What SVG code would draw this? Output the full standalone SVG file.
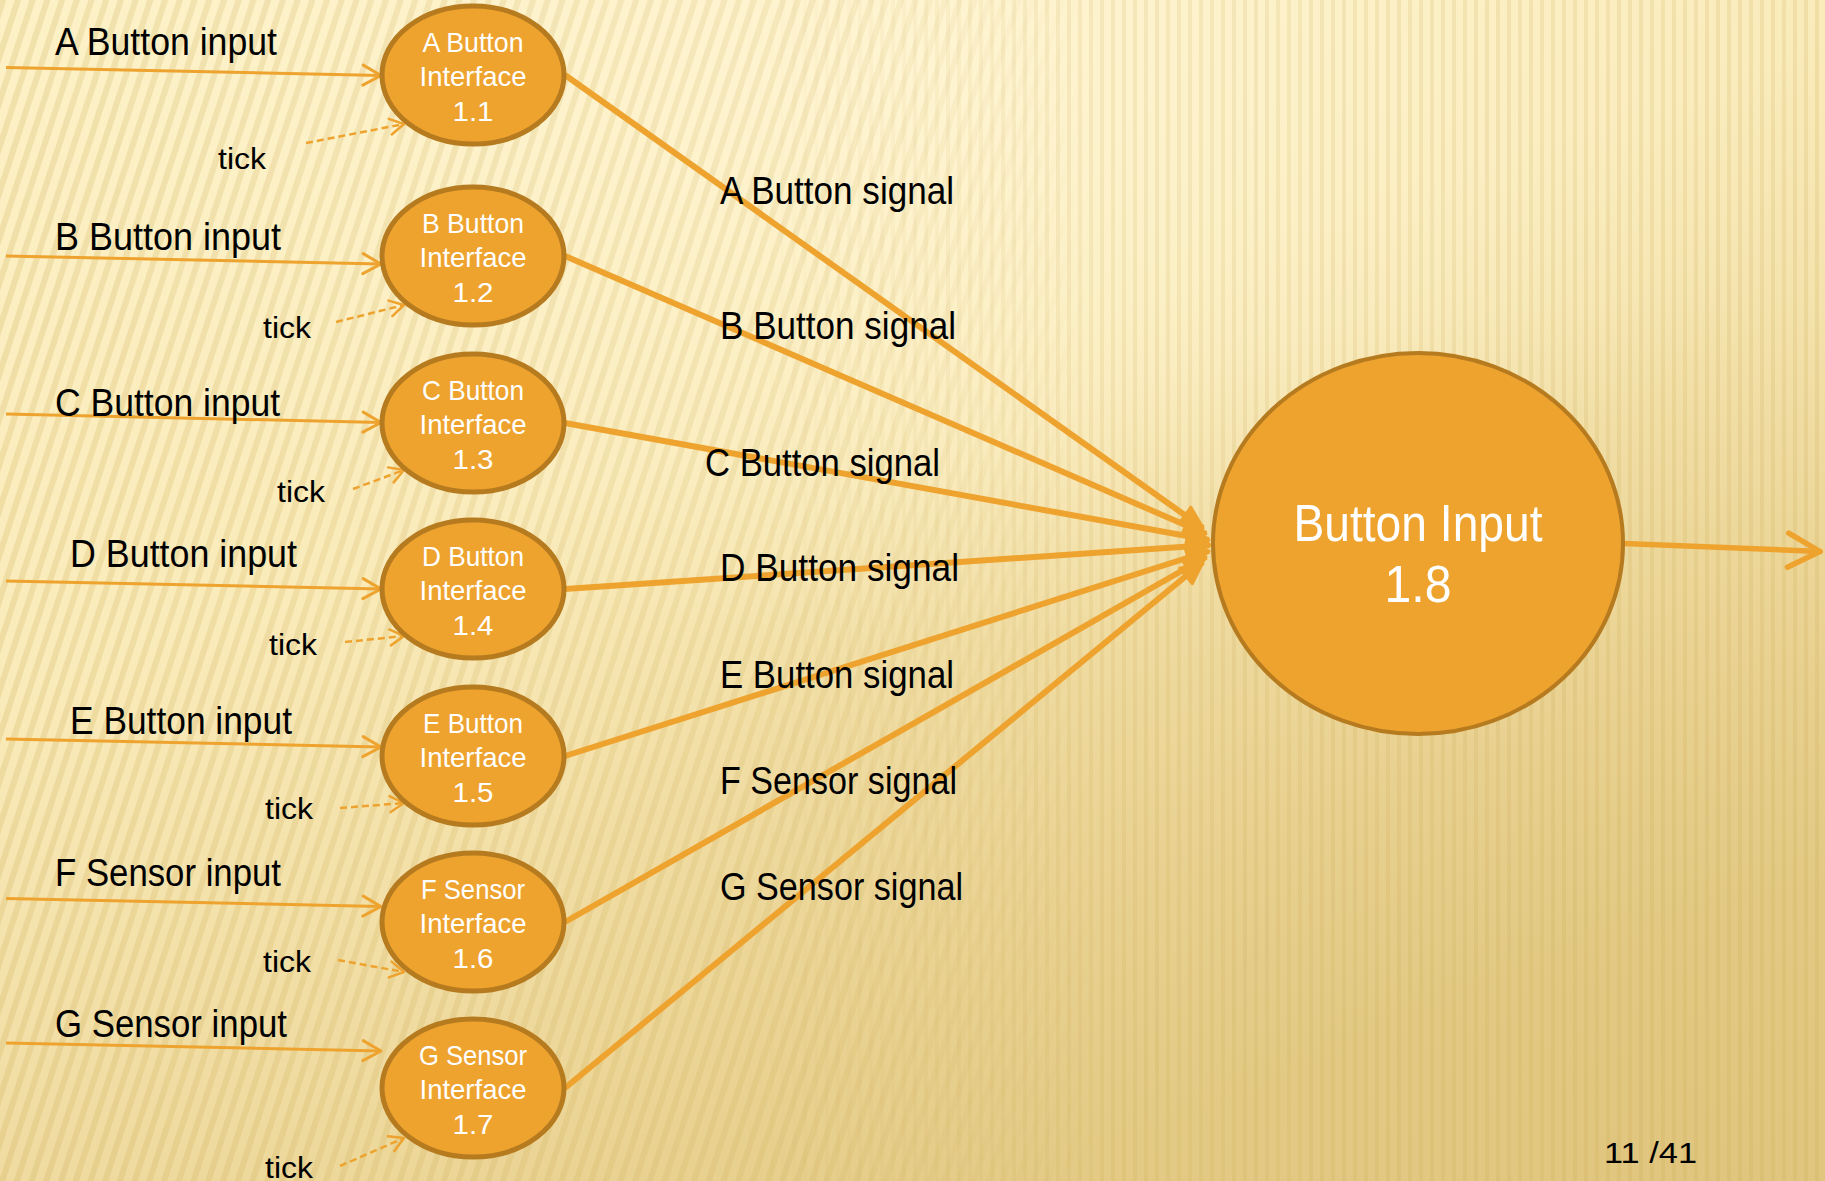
<svg xmlns="http://www.w3.org/2000/svg" width="1825" height="1181" viewBox="0 0 1825 1181">
<defs>
<style>
.lbl{font-family:"Liberation Sans",Arial,sans-serif;font-size:38px;fill:#000}
.tick{font-family:"Liberation Sans",Arial,sans-serif;font-size:30px;fill:#000}
.ntxt{font-family:"Liberation Sans",Arial,sans-serif;font-size:28px;fill:#fff;text-anchor:middle}
.btxt{font-family:"Liberation Sans",Arial,sans-serif;font-size:52px;fill:#fff;text-anchor:middle}
.node{fill:#EEA32F;stroke:#B67A1F;stroke-width:5}
.in{stroke:#EEA32F;stroke-width:3;fill:none;marker-end:url(#chev)}
.tk{stroke:#EEA32F;stroke-width:2.5;fill:none;stroke-dasharray:7 4;marker-end:url(#chevs)}
.sig{stroke:#EEA32F;stroke-width:6;fill:none;marker-end:url(#head)}
.out{stroke:#EEA32F;stroke-width:5.5;fill:none;stroke-linecap:round;marker-end:url(#chevb)}
</style>
<linearGradient id="bg" x1="0" y1="0" x2="0.55" y2="1">
<stop offset="0" stop-color="#FDF1C6"/>
<stop offset="0.45" stop-color="#FAEBBA"/>
<stop offset="1" stop-color="#E8D08E"/>
</linearGradient>
<radialGradient id="shade" cx="0.95" cy="1" r="0.75">
<stop offset="0" stop-color="#D9BC70" stop-opacity="0.55"/>
<stop offset="1" stop-color="#D9BC70" stop-opacity="0"/>
</radialGradient>
<radialGradient id="glow" cx="0.5" cy="0.05" r="0.5">
<stop offset="0" stop-color="#FFF6D6" stop-opacity="0.8"/>
<stop offset="1" stop-color="#FFF6D6" stop-opacity="0"/>
</radialGradient>
<pattern id="diag" width="14" height="14" patternUnits="userSpaceOnUse" patternTransform="rotate(18)">
<rect x="0" y="0" width="6" height="14" fill="#C9A64E" fill-opacity="0.22"/>
</pattern>
<pattern id="vert" width="11" height="11" patternUnits="userSpaceOnUse">
<rect x="0" y="0" width="4" height="11" fill="#C9A64E" fill-opacity="0.18"/>
</pattern>
<linearGradient id="fadeL" x1="0" y1="0" x2="1" y2="0">
<stop offset="0" stop-color="#fff"/>
<stop offset="0.45" stop-color="#fff" stop-opacity="0.7"/>
<stop offset="0.6" stop-color="#fff" stop-opacity="0"/>
</linearGradient>
<linearGradient id="fadeR" x1="0" y1="0" x2="1" y2="0">
<stop offset="0.4" stop-color="#fff" stop-opacity="0"/>
<stop offset="0.6" stop-color="#fff" stop-opacity="0.8"/>
<stop offset="1" stop-color="#fff"/>
</linearGradient>
<mask id="mL"><rect width="1825" height="1181" fill="url(#fadeL)"/></mask>
<mask id="mR"><rect width="1825" height="1181" fill="url(#fadeR)"/></mask>
<marker id="chev" viewBox="-22 -13 26 26" refX="0" refY="0" markerWidth="26" markerHeight="26" markerUnits="userSpaceOnUse" orient="auto">
<path d="M-18,-10 L0,0 L-18,10" fill="none" stroke="#EEA32F" stroke-width="3" stroke-linecap="round" stroke-linejoin="round"/>
</marker>
<marker id="chevs" viewBox="-18 -11 22 22" refX="0" refY="0" markerWidth="22" markerHeight="22" markerUnits="userSpaceOnUse" orient="auto">
<path d="M-14,-8 L0,0 L-14,8" fill="none" stroke="#EEA32F" stroke-width="2.5" stroke-linecap="round" stroke-linejoin="round"/>
</marker>
<marker id="chevb" viewBox="-38 -22 44 44" refX="0" refY="0" markerWidth="44" markerHeight="44" markerUnits="userSpaceOnUse" orient="auto">
<path d="M-32,-17 L0,0 L-32,17" fill="none" stroke="#EEA32F" stroke-width="5.5" stroke-linecap="round" stroke-linejoin="round"/>
</marker>
<marker id="head" viewBox="-28 -16 32 32" refX="0" refY="0" markerWidth="32" markerHeight="32" markerUnits="userSpaceOnUse" orient="auto">
<path d="M-22,-10 L0,0 L-22,10 Z" fill="#EEA32F" stroke="#EEA32F" stroke-width="3" stroke-linejoin="round"/>
</marker>
</defs>

<g id="background">
<rect width="1825" height="1181" fill="url(#bg)"/>
<rect width="1825" height="1181" fill="url(#glow)"/>
<rect width="1825" height="1181" fill="url(#shade)"/>
<rect width="1825" height="1181" fill="url(#diag)" mask="url(#mL)"/>
<rect width="1825" height="1181" fill="url(#vert)" mask="url(#mR)"/>
</g>

<g id="connectors">
<line class="in" x1="6" y1="67.5" x2="381" y2="75.5"/>
<line class="in" x1="6" y1="256" x2="381" y2="264"/>
<line class="in" x1="6" y1="414" x2="381" y2="422.5"/>
<line class="in" x1="6" y1="581" x2="381" y2="589"/>
<line class="in" x1="6" y1="739" x2="381" y2="747"/>
<line class="in" x1="6" y1="898.5" x2="381" y2="906.5"/>
<line class="in" x1="6" y1="1043" x2="381" y2="1051"/>

<line class="tk" x1="306" y1="143" x2="404" y2="124"/>
<line class="tk" x1="336" y1="322" x2="404" y2="305"/>
<line class="tk" x1="353" y1="489" x2="404" y2="470"/>
<line class="tk" x1="345" y1="642" x2="404" y2="636"/>
<line class="tk" x1="340" y1="808" x2="404" y2="803"/>
<line class="tk" x1="338" y1="960" x2="404" y2="972"/>
<line class="tk" x1="340" y1="1166" x2="404" y2="1138"/>

<line class="sig" x1="565" y1="75" x2="1203" y2="528"/>
<line class="sig" x1="565" y1="256" x2="1206" y2="534"/>
<line class="sig" x1="565" y1="423" x2="1209" y2="540"/>
<line class="sig" x1="565" y1="589" x2="1210" y2="545"/>
<line class="sig" x1="565" y1="756" x2="1209" y2="551"/>
<line class="sig" x1="565" y1="922" x2="1206" y2="557"/>
<line class="sig" x1="565" y1="1088" x2="1203" y2="562"/>

<line class="out" x1="1624" y1="543.5" x2="1820" y2="551.5"/>
</g>

<g id="connector-labels">
<text class="lbl" x="55" y="55" textLength="222" lengthAdjust="spacingAndGlyphs">A Button input</text>
<text class="lbl" x="55" y="250" textLength="226" lengthAdjust="spacingAndGlyphs">B Button input</text>
<text class="lbl" x="55" y="416" textLength="225" lengthAdjust="spacingAndGlyphs">C Button input</text>
<text class="lbl" x="70" y="567" textLength="227" lengthAdjust="spacingAndGlyphs">D Button input</text>
<text class="lbl" x="70" y="734" textLength="222" lengthAdjust="spacingAndGlyphs">E Button input</text>
<text class="lbl" x="55" y="886" textLength="226" lengthAdjust="spacingAndGlyphs">F Sensor input</text>
<text class="lbl" x="55" y="1037" textLength="232" lengthAdjust="spacingAndGlyphs">G Sensor input</text>

<text class="tick" x="218" y="169" textLength="48" lengthAdjust="spacingAndGlyphs">tick</text>
<text class="tick" x="263" y="338" textLength="48" lengthAdjust="spacingAndGlyphs">tick</text>
<text class="tick" x="277" y="502" textLength="48" lengthAdjust="spacingAndGlyphs">tick</text>
<text class="tick" x="269" y="655" textLength="48" lengthAdjust="spacingAndGlyphs">tick</text>
<text class="tick" x="265" y="819" textLength="48" lengthAdjust="spacingAndGlyphs">tick</text>
<text class="tick" x="263" y="972" textLength="48" lengthAdjust="spacingAndGlyphs">tick</text>
<text class="tick" x="265" y="1178" textLength="48" lengthAdjust="spacingAndGlyphs">tick</text>

<text class="lbl" x="720" y="204" textLength="234" lengthAdjust="spacingAndGlyphs">A Button signal</text>
<text class="lbl" x="720" y="339" textLength="236" lengthAdjust="spacingAndGlyphs">B Button signal</text>
<text class="lbl" x="705" y="476" textLength="235" lengthAdjust="spacingAndGlyphs">C Button signal</text>
<text class="lbl" x="720" y="581" textLength="239" lengthAdjust="spacingAndGlyphs">D Button signal</text>
<text class="lbl" x="720" y="688" textLength="234" lengthAdjust="spacingAndGlyphs">E Button signal</text>
<text class="lbl" x="720" y="794" textLength="237" lengthAdjust="spacingAndGlyphs">F Sensor signal</text>
<text class="lbl" x="720" y="900" textLength="243" lengthAdjust="spacingAndGlyphs">G Sensor signal</text>
</g>

<g id="node-1-1">
<ellipse class="node" cx="473" cy="75" rx="91" ry="69"/>
<text class="ntxt" x="473" y="52" textLength="101" lengthAdjust="spacingAndGlyphs">A Button</text>
<text class="ntxt" x="473" y="86" textLength="107" lengthAdjust="spacingAndGlyphs">Interface</text>
<text class="ntxt" x="473" y="121" textLength="41" lengthAdjust="spacingAndGlyphs">1.1</text>
</g>
<g id="node-1-2">
<ellipse class="node" cx="473" cy="256" rx="91" ry="69"/>
<text class="ntxt" x="473" y="233" textLength="102" lengthAdjust="spacingAndGlyphs">B Button</text>
<text class="ntxt" x="473" y="267" textLength="107" lengthAdjust="spacingAndGlyphs">Interface</text>
<text class="ntxt" x="473" y="302" textLength="41" lengthAdjust="spacingAndGlyphs">1.2</text>
</g>
<g id="node-1-3">
<ellipse class="node" cx="473" cy="423" rx="91" ry="69"/>
<text class="ntxt" x="473" y="400" textLength="102" lengthAdjust="spacingAndGlyphs">C Button</text>
<text class="ntxt" x="473" y="434" textLength="107" lengthAdjust="spacingAndGlyphs">Interface</text>
<text class="ntxt" x="473" y="469" textLength="41" lengthAdjust="spacingAndGlyphs">1.3</text>
</g>
<g id="node-1-4">
<ellipse class="node" cx="473" cy="589" rx="91" ry="69"/>
<text class="ntxt" x="473" y="566" textLength="102" lengthAdjust="spacingAndGlyphs">D Button</text>
<text class="ntxt" x="473" y="600" textLength="107" lengthAdjust="spacingAndGlyphs">Interface</text>
<text class="ntxt" x="473" y="635" textLength="41" lengthAdjust="spacingAndGlyphs">1.4</text>
</g>
<g id="node-1-5">
<ellipse class="node" cx="473" cy="756" rx="91" ry="69"/>
<text class="ntxt" x="473" y="733" textLength="100" lengthAdjust="spacingAndGlyphs">E Button</text>
<text class="ntxt" x="473" y="767" textLength="107" lengthAdjust="spacingAndGlyphs">Interface</text>
<text class="ntxt" x="473" y="802" textLength="41" lengthAdjust="spacingAndGlyphs">1.5</text>
</g>
<g id="node-1-6">
<ellipse class="node" cx="473" cy="922" rx="91" ry="69"/>
<text class="ntxt" x="473" y="899" textLength="104" lengthAdjust="spacingAndGlyphs">F Sensor</text>
<text class="ntxt" x="473" y="933" textLength="107" lengthAdjust="spacingAndGlyphs">Interface</text>
<text class="ntxt" x="473" y="968" textLength="41" lengthAdjust="spacingAndGlyphs">1.6</text>
</g>
<g id="node-1-7">
<ellipse class="node" cx="473" cy="1088" rx="91" ry="69"/>
<text class="ntxt" x="473" y="1065" textLength="108" lengthAdjust="spacingAndGlyphs">G Sensor</text>
<text class="ntxt" x="473" y="1099" textLength="107" lengthAdjust="spacingAndGlyphs">Interface</text>
<text class="ntxt" x="473" y="1134" textLength="41" lengthAdjust="spacingAndGlyphs">1.7</text>
</g>
<g id="node-1-8">
<ellipse class="node" cx="1418" cy="543.5" rx="205" ry="190.5" style="stroke-width:4"/>
<text class="btxt" x="1418" y="541" textLength="249" lengthAdjust="spacingAndGlyphs">Button Input</text>
<text class="btxt" x="1418" y="602" textLength="67" lengthAdjust="spacingAndGlyphs">1.8</text>
</g>

<text id="page-number" class="tick" x="1604" y="1163" textLength="93" lengthAdjust="spacingAndGlyphs">11 /41</text>
</svg>
